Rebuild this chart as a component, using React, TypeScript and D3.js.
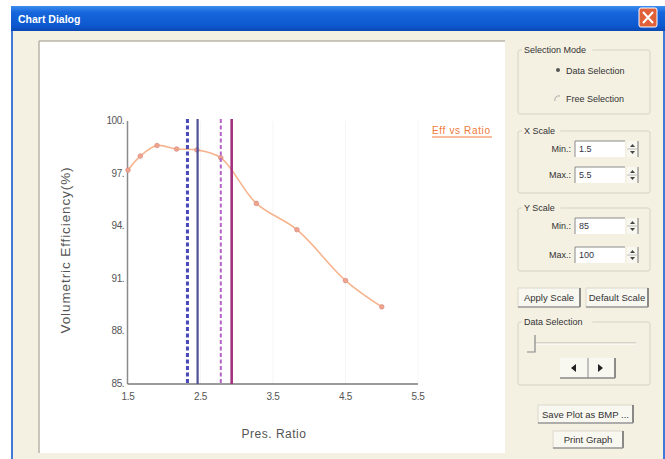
import React from "react";
import * as d3 from "d3";

// ---- data ----
const pressRatio = [1.5, 1.67, 1.9, 2.17, 2.45, 2.78, 3.27, 3.83, 4.5, 5.0];
const efficiency = [97.2, 98.0, 98.6, 98.4, 98.35, 97.9, 95.3, 93.8, 90.9, 89.4];
const xTicks = [1.5, 2.5, 3.5, 4.5, 5.5];
const yTicks = [85, 88, 91, 94, 97, 100];
const markerLineX = [2.32, 2.46, 2.78, 2.93];
const seriesName = "Eff vs Ratio";
const xTitle = "Pres.  Ratio";
const yTitle = "Volumetric  Efficiency(%)";

const markerStyles = [
  { stroke: "#4848b8", width: 3, dash: "4,2.5" },
  { stroke: "#505098", width: 2.2, dash: "" },
  { stroke: "#b462c6", width: 2, dash: "4,2.5" },
  { stroke: "#a2307e", width: 2.6, dash: "" },
];

const W = 665;
const H = 459;
const UI_FONT = "'Liberation Sans', Arial, sans-serif";

function Button({ x, y, w, h, label }: { x: number; y: number; w: number; h: number; label: string }) {
  return (
    <g>
      <rect x={x} y={y} width={w} height={h} fill="#f8f7f0" stroke="#dcd9cb" strokeWidth={1} />
      <line x1={x + w} y1={y} x2={x + w} y2={y + h} stroke="#6a6a6a" strokeWidth={1.5} />
      <line x1={x} y1={y + h} x2={x + w} y2={y + h} stroke="#9a9a9a" strokeWidth={1.5} />
      <text x={x + w / 2} y={y + h / 2 + 3.5} textAnchor="middle" fontSize={9.5} fill="#333" fontFamily={UI_FONT}>
        {label}
      </text>
    </g>
  );
}

function GroupBox({ x, y, w, h, title }: { x: number; y: number; w: number; h: number; title: string }) {
  const tw = title.length * 4.6 + 6;
  return (
    <g>
      <rect x={x} y={y} width={w} height={h} fill="none" stroke="#d8d4c2" strokeWidth={1} rx={2} />
      <rect x={x + 4} y={y - 5} width={tw} height={10} fill="#f4f0e2" />
      <text x={x + 6} y={y + 3} fontSize={9} fill="#333" fontFamily={UI_FONT}>
        {title}
      </text>
    </g>
  );
}

function SpinField({ x, y, label, value }: { x: number; y: number; label: string; value: string }) {
  return (
    <g>
      <text x={x - 4} y={y + 11} textAnchor="end" fontSize={9} fill="#333" fontFamily={UI_FONT}>
        {label}
      </text>
      <rect x={x} y={y} width={50} height={16} fill="#ffffff" />
      <line x1={x} y1={y} x2={x + 50} y2={y} stroke="#8a8a8a" />
      <line x1={x} y1={y} x2={x} y2={y + 16} stroke="#8a8a8a" />
      <text x={x + 4} y={y + 11} fontSize={9} fill="#334" fontFamily={UI_FONT}>
        {value}
      </text>
      <rect x={x + 52} y={y} width={11} height={16} fill="#f8f7f0" />
      <line x1={x + 63} y1={y} x2={x + 63} y2={y + 16} stroke="#777" />
      <line x1={x + 52} y1={y + 8} x2={x + 63} y2={y + 8} stroke="#bbb" />
      <path d={`M${x + 55},${y + 6} l2.5,-3 l2.5,3 z`} fill="#444" />
      <path d={`M${x + 55},${y + 10} l2.5,3 l2.5,-3 z`} fill="#444" />
    </g>
  );
}

export default function App() {
  const x = d3.scaleLinear().domain([1.5, 5.5]).range([128, 418]);
  const y = d3.scaleLinear().domain([85, 100]).range([384, 121]);

  const pts: [number, number][] = pressRatio.map((p, i) => [x(p), y(efficiency[i])]);
  const line = d3.line().curve(d3.curveCatmullRom.alpha(0.5))(pts) || "";

  return (
    <svg width={W} height={H} style={{ position: "absolute", left: 0, top: 0 }} fontFamily={UI_FONT}>
      <defs>
        <linearGradient id="titleGrad" x1="0" y1="0" x2="0" y2="1">
          <stop offset="0" stopColor="#3d8ef0" />
          <stop offset="0.25" stopColor="#1766dc" />
          <stop offset="0.8" stopColor="#0d58cf" />
          <stop offset="1" stopColor="#0b48b0" />
        </linearGradient>
      </defs>
      <rect x={0} y={0} width={W} height={H} fill="#ffffff" />
      {/* window body */}
      <rect x={11} y={6} width={654} height={H - 6} fill="#3f7ad8" />
      <rect x={13} y={30} width={650} height={H - 30} fill="#f4f0e2" />
      {/* title bar */}
      <rect x={11} y={6} width={654} height={25} fill="url(#titleGrad)" />
      <text x={18} y={23} fontSize={10.5} fontWeight="bold" fill="#ffffff" fontFamily={UI_FONT}>
        Chart Dialog
      </text>
      <rect x={639} y={8} width={18} height={19} rx={2} fill="#e0603a" stroke="#ffffff" strokeWidth={1} />
      <path d="M643,12 L653,23 M653,12 L643,23" stroke="#ffffff" strokeWidth={2} />

      {/* chart panel */}
      <rect x={39} y={41} width={466} height={412} fill="#ffffff" />
      <line x1={39} y1={41} x2={505} y2={41} stroke="#b9b6a8" strokeWidth={1.5} />
      <line x1={39} y1={41} x2={39} y2={453} stroke="#b9b6a8" strokeWidth={1.5} />

      {/* faint grid */}
      {xTicks.slice(1).map((t) => (
        <line key={"g" + t} x1={x(t)} x2={x(t)} y1={y(100)} y2={y(85)} stroke="#f5f5f5" strokeWidth={1} />
      ))}

      {/* axes */}
      <line x1={x(1.5) - 0.5} x2={x(1.5) - 0.5} y1={y(100)} y2={y(85)} stroke="#8a8a8a" strokeWidth={1.5} />
      <line x1={x(1.5) - 0.5} x2={x(5.5)} y1={y(85)} y2={y(85)} stroke="#7a7a7a" strokeWidth={1.5} />

      {yTicks.map((t) => (
        <text key={"y" + t} x={124} y={y(t) + 3} textAnchor="end" fontSize={10} fill="#555" letterSpacing={-0.5}>
          {t + "."}
        </text>
      ))}
      {xTicks.map((t) => (
        <text key={"x" + t} x={x(t)} y={400} textAnchor="middle" fontSize={10} fill="#555" letterSpacing={-0.3}>
          {t.toFixed(1)}
        </text>
      ))}

      <text x={274} y={438} textAnchor="middle" fontSize={12} fill="#555" letterSpacing={0.5}>
        {xTitle}
      </text>
      <text
        transform={`translate(70,250) rotate(-90)`}
        textAnchor="middle"
        fontSize={13.5}
        fill="#555"
        letterSpacing={0.9}
      >
        {yTitle}
      </text>

      {/* data curve */}
      <path d={line} fill="none" stroke="#f6b48e" strokeWidth={1.6} />
      {pts.map(([px, py], i) => (
        <circle key={"p" + i} cx={px} cy={py} r={2.3} fill="#f2a48a" stroke="#d8908a" strokeWidth={0.8} />
      ))}

      {/* vertical marker lines */}
      {markerLineX.map((v, i) => (
        <line
          key={"m" + i}
          x1={x(v)}
          x2={x(v)}
          y1={y(100) - 2}
          y2={y(85)}
          stroke={markerStyles[i].stroke}
          strokeWidth={markerStyles[i].width}
          strokeDasharray={markerStyles[i].dash}
        />
      ))}

      {/* legend */}
      <text x={432} y={134} fontSize={10} fill="#f07a3a" textLength={58} lengthAdjust="spacing">
        {seriesName}
      </text>
      <line x1={432} x2={492} y1={137} y2={137} stroke="#f07a3a" strokeWidth={1} />

      {/* right control panel */}
      <GroupBox x={518} y={50} w={132} h={64} title="Selection Mode" />
      <circle cx={558} cy={70} r={2} fill="#555" />
      <text x={566} y={74} fontSize={9} fill="#333">Data Selection</text>
      <path d="M555,101 a4,4 0 0 1 5,-5" fill="none" stroke="#aaa" />
      <text x={566} y={102} fontSize={9} fill="#333">Free Selection</text>

      <GroupBox x={518} y={131} w={132} h={62} title="X Scale" />
      <SpinField x={575} y={141} label="Min.:" value="1.5" />
      <SpinField x={575} y={167} label="Max.:" value="5.5" />

      <GroupBox x={518} y={208} w={132} h={63} title="Y Scale" />
      <SpinField x={575} y={218} label="Min.:" value="85" />
      <SpinField x={575} y={247} label="Max.:" value="100" />

      <Button x={518} y={288} w={62} h={19} label="Apply Scale" />
      <Button x={586} y={288} w={62} h={19} label="Default Scale" />

      <GroupBox x={518} y={322} w={132} h={63} title="Data Selection" />
      <line x1={535} x2={636} y1={343} y2={343} stroke="#b8b6aa" strokeWidth={1} />
      <line x1={535} x2={636} y1={344} y2={344} stroke="#ffffff" strokeWidth={1} />
      <path d="M535,335 L535,352 L527,352" fill="none" stroke="#888" strokeWidth={1.2} />
      <rect x={560} y={358} width={55} height={20} fill="#f8f7f0" />
      <line x1={615} y1={358} x2={615} y2={378} stroke="#6a6a6a" strokeWidth={1.5} />
      <line x1={560} y1={378} x2={615} y2={378} stroke="#8a8a8a" strokeWidth={1.5} />
      <line x1={588} y1={358} x2={588} y2={378} stroke="#8a8a8a" strokeWidth={1} />
      <path d="M576,364 L571,368 L576,372 Z" fill="#222" />
      <path d="M598,364 L603,368 L598,372 Z" fill="#222" />

      <Button x={538} y={405} w={95} h={18} label="Save Plot as BMP ..." />
      <Button x={553} y={431} w={70} h={17} label="Print Graph" />
    </svg>
  );
}
